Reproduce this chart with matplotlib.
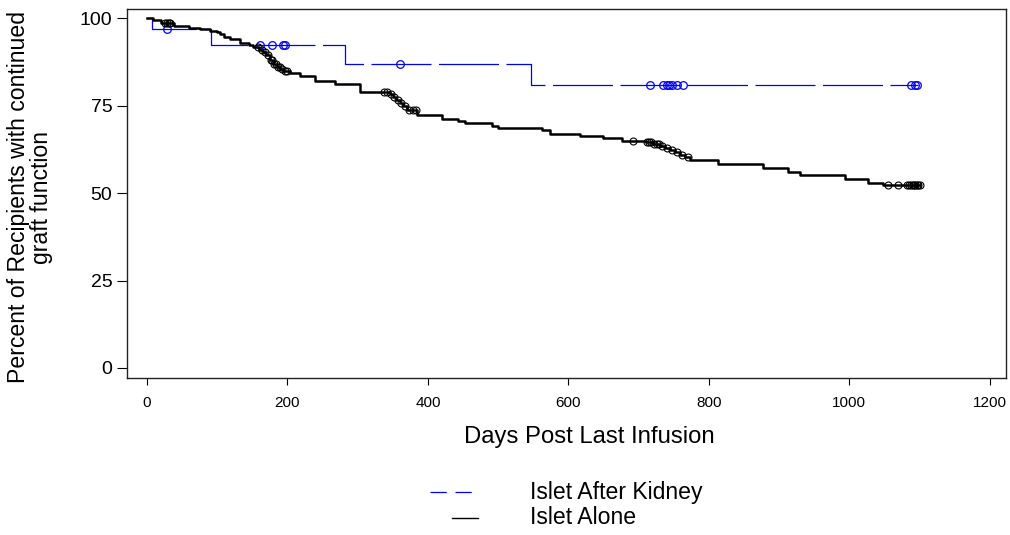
import numpy as np
import matplotlib
matplotlib.use("Agg")
import matplotlib.pyplot as plt
from matplotlib.lines import Line2D
from matplotlib import font_manager

plt.rcParams['font.family'] = ['Liberation Sans', 'DejaVu Sans']

# ---- data ----
alone_t = [0, 8, 20, 38, 60, 75, 90, 99, 104, 109, 118, 132, 145, 151, 160, 165, 170, 175,
           180, 185, 190, 194, 204, 218, 239, 268, 303, 346, 350, 355, 360, 365, 370, 384,
           420, 443, 453, 491, 500, 562, 574, 616, 649, 676, 711, 720, 730, 737, 744, 752,
           759, 766, 773, 813, 877, 912, 930, 994, 1026, 1048, 1100]
alone_s = [100, 99.4, 98.6, 97.6, 97.2, 96.8, 96.4, 96.1, 95.4, 94.7, 93.9, 92.9, 92.3, 91.6,
           90.8, 90.2, 89.4, 88.0, 86.8, 86.1, 85.5, 85.0, 84.2, 83.4, 82.1, 81.3, 78.8, 78.3,
           77.5, 76.7, 75.6, 74.8, 73.7, 72.3, 71.3, 70.7, 69.9, 69.2, 68.5, 68.0, 67.0, 66.4,
           65.8, 64.9, 64.5, 64.0, 63.5, 62.9, 62.3, 61.7, 61.0, 60.3, 59.4, 58.2, 57.2, 56.1,
           55.1, 53.9, 53.0, 52.3, 52.3]
alone_cens = [26, 29, 31, 33, 158, 163, 168, 172, 176, 178, 181, 183, 186, 189, 192, 196, 200,
              338, 342, 348, 352, 357, 362, 367, 373, 378, 383,
              692, 712, 715, 718, 722, 726, 729, 733, 740, 748, 755, 762, 770,
              1055, 1069, 1082, 1085, 1088, 1090, 1092, 1094, 1096, 1098, 1100]

kidney_t = [0, 7, 91, 282, 547, 1097]
kidney_s = [100, 96.8, 92.2, 86.8, 80.8, 80.8]
kidney_cens = [28, 161, 178, 194, 197, 360, 716, 735, 740, 743, 748, 755, 763, 1088, 1093, 1096]

xticks = [0, 200, 400, 600, 800, 1000, 1200]
yticks = [0, 25, 50, 75, 100]
labels = ["Islet After Kidney", "Islet Alone"]


def step_at(t_arr, s_arr, x):
    t_arr = np.asarray(t_arr); s_arr = np.asarray(s_arr)
    idx = np.searchsorted(t_arr, x, side='right') - 1
    return s_arr[np.clip(idx, 0, len(s_arr) - 1)]


names = {f.name for f in font_manager.fontManager.ttflist}
narrow = 'Liberation Sans Narrow' if 'Liberation Sans Narrow' in names else 'Liberation Sans'

W, H = 1010, 535
fig = plt.figure(figsize=(W/100, H/100), dpi=100)
ax = fig.add_axes([127/W, 1 - 378/H, (1006-127)/W, (378-9)/H])

ax.plot(kidney_t, kidney_s, drawstyle='steps-post', color='#0000ff', lw=0.9,
        dashes=(48, 6))
ax.plot(kidney_cens, step_at(kidney_t, kidney_s, kidney_cens), 'o', ms=5.5,
        mfc='none', mec='#0000ff', mew=0.9, ls='none')
ax.plot(alone_t, alone_s, drawstyle='steps-post', color='black', lw=1.8)
ax.plot(alone_cens, step_at(alone_t, alone_s, alone_cens), 'o', ms=5,
        mfc='none', mec='black', mew=0.8, ls='none')

ax.set_xlim(-28.5, 1223)
ax.set_ylim(-2.86, 102.6)
ax.set_xticks(xticks)
ax.set_yticks(yticks)
ax.tick_params(axis='y', direction='out', length=7, width=0.8, labelsize=14, pad=3.5)
ax.tick_params(axis='x', direction='out', length=5, width=0.8, labelsize=11, pad=8)
for lab in ax.get_xticklabels():
    lab.set_family(narrow)
for sp in ax.spines.values():
    sp.set_linewidth(1.0)
    sp.set_color('#222222')

fig.text(589/W, 1 - 437/H, "Days Post Last Infusion", fontsize=17.2,
         ha='center', va='center')
fig.text(30/W, 1 - 197/H, "Percent of Recipients with continued\ngraft function",
         fontsize=16.6, rotation=90, ha='center', va='center', linespacing=0.95,
         multialignment='center')

# manual legend
fig.add_artist(Line2D([430/W, 472/W], [1 - 492/H, 1 - 492/H], color='#0000ff', lw=0.9,
                      dashes=(13, 7), transform=fig.transFigure))
fig.add_artist(Line2D([452/W, 478/W], [1 - 518/H, 1 - 518/H], color='black', lw=1.0,
                      transform=fig.transFigure))
fig.text(530/W, 1 - 492/H, labels[0], fontsize=16.6, ha='left', va='center')
fig.text(530/W, 1 - 518/H, labels[1], fontsize=16.6, ha='left', va='center')

fig.savefig("out.png", dpi=100)
